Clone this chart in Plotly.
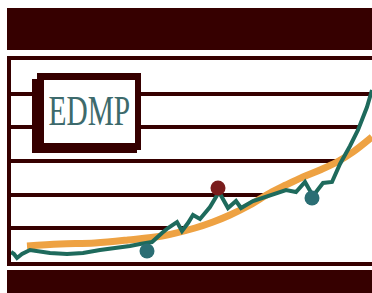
import plotly.graph_objects as go

# ---- data (x: horizontal position, y: level above baseline) ----
price_x = [11, 14, 17, 22, 30, 40, 50, 67, 83, 100, 117, 130, 140, 152, 162, 168, 177, 182,
           188, 193, 200, 210, 219, 228, 236, 241, 253, 269, 286, 296, 305, 313, 323, 332,
           340, 350, 358, 367, 372]
price_y = [10, 8, 4, 8, 12, 10, 9, 8, 9, 12, 14, 16, 18, 20, 29, 34, 40, 31,
           39, 47, 43, 55, 70, 54, 61, 54, 61, 66, 72, 70, 80, 66, 79, 80,
           98, 116, 132, 155, 172]

trend_x = [27, 60, 95, 128, 162, 195, 213, 230, 250, 270, 286, 303, 320, 337, 353, 372]
trend_y = [16, 18, 19, 22, 26, 34, 40, 47, 57, 69, 77, 85, 92, 100, 110, 125]

high_x = [218]
high_y = [74]
low_x = [147, 312]
low_y = [11, 64]

logo_text = "EDMP"

DARK = "#360000"
GREEN = "#1e6a5c"
ORANGE = "#eea243"
TEAL = "#2b6e74"
MAROON = "#7a1d1d"

W, H = 372, 293
L, T, B = 11, 60, 31
PW, PH = W - L, H - T - B


def pxx(px):
    return (px - L) / PW


def pxy(py):
    return (H - B - py) / PH


fig = go.Figure()
# white fills hiding grid lines under the curves
fig.add_trace(go.Scatter(x=trend_x, y=trend_y, mode="lines", fill="tozeroy",
                         fillcolor="white", line=dict(width=0, color="white"),
                         hoverinfo="skip"))
fig.add_trace(go.Scatter(x=price_x, y=price_y, mode="lines", fill="tozeroy",
                         fillcolor="white", line=dict(width=0, color="white"),
                         hoverinfo="skip"))
fig.add_trace(go.Scatter(x=trend_x, y=trend_y, mode="lines",
                         line=dict(color=ORANGE, width=7, shape="spline")))
fig.add_trace(go.Scatter(x=price_x, y=price_y, mode="lines",
                         line=dict(color=GREEN, width=4)))
fig.add_trace(go.Scatter(x=high_x, y=high_y, mode="markers",
                         marker=dict(color=MAROON, size=15)))
fig.add_trace(go.Scatter(x=low_x, y=low_y, mode="markers",
                         marker=dict(color=TEAL, size=15)))

shapes = [
    dict(type="rect", xref="paper", yref="paper", x0=pxx(7), x1=pxx(372),
         y0=pxy(50), y1=pxy(8), fillcolor=DARK, line=dict(width=0), layer="above"),
    dict(type="rect", xref="paper", yref="paper", x0=pxx(7), x1=pxx(372),
         y0=pxy(293), y1=pxy(270), fillcolor=DARK, line=dict(width=0), layer="above"),
    dict(type="rect", xref="paper", yref="paper", x0=pxx(32), x1=pxx(137),
         y0=pxy(153), y1=pxy(79), fillcolor=DARK, line=dict(width=0), layer="above"),
    dict(type="rect", xref="paper", yref="paper", x0=pxx(37), x1=pxx(141),
         y0=pxy(150), y1=pxy(73), fillcolor=DARK, line=dict(width=0), layer="above"),
    dict(type="rect", xref="paper", yref="paper", x0=pxx(44), x1=pxx(135),
         y0=pxy(143), y1=pxy(80), fillcolor="white", line=dict(width=0), layer="above"),
]

fig.update_layout(
    width=W, height=H,
    margin=dict(l=L, r=0, t=T, b=B, pad=0),
    paper_bgcolor="white", plot_bgcolor="white",
    showlegend=False,
    shapes=shapes,
    annotations=[dict(text=logo_text, xref="paper", yref="paper",
                      x=pxx(89.5), y=pxy(111), showarrow=False,
                      xanchor="center", yanchor="middle",
                      font=dict(family="Liberation Serif", size=42, color="#3d6a6c"))],
)
fig.update_xaxes(range=[L, W], showgrid=False, zeroline=False, showticklabels=False,
                 ticks="", showline=True, linewidth=4, linecolor=DARK, mirror=True,
                 fixedrange=True)
fig.update_yaxes(range=[0, PH], tick0=0, dtick=PH / 6, showgrid=True, gridwidth=4,
                 gridcolor=DARK, zeroline=False, showticklabels=False, ticks="",
                 showline=True, linewidth=4, linecolor=DARK, mirror=False,
                 fixedrange=True)

post = ("document.body.style.margin='0';document.body.style.overflow='hidden';"
        "document.querySelectorAll('.annotation-text').forEach(function(e){"
        "e.style.transformBox='fill-box';e.style.transformOrigin='center';"
        "e.style.transform='scaleX(0.7)';});")
fig.write_html("out.html", config={"displayModeBar": False}, post_script=post)
